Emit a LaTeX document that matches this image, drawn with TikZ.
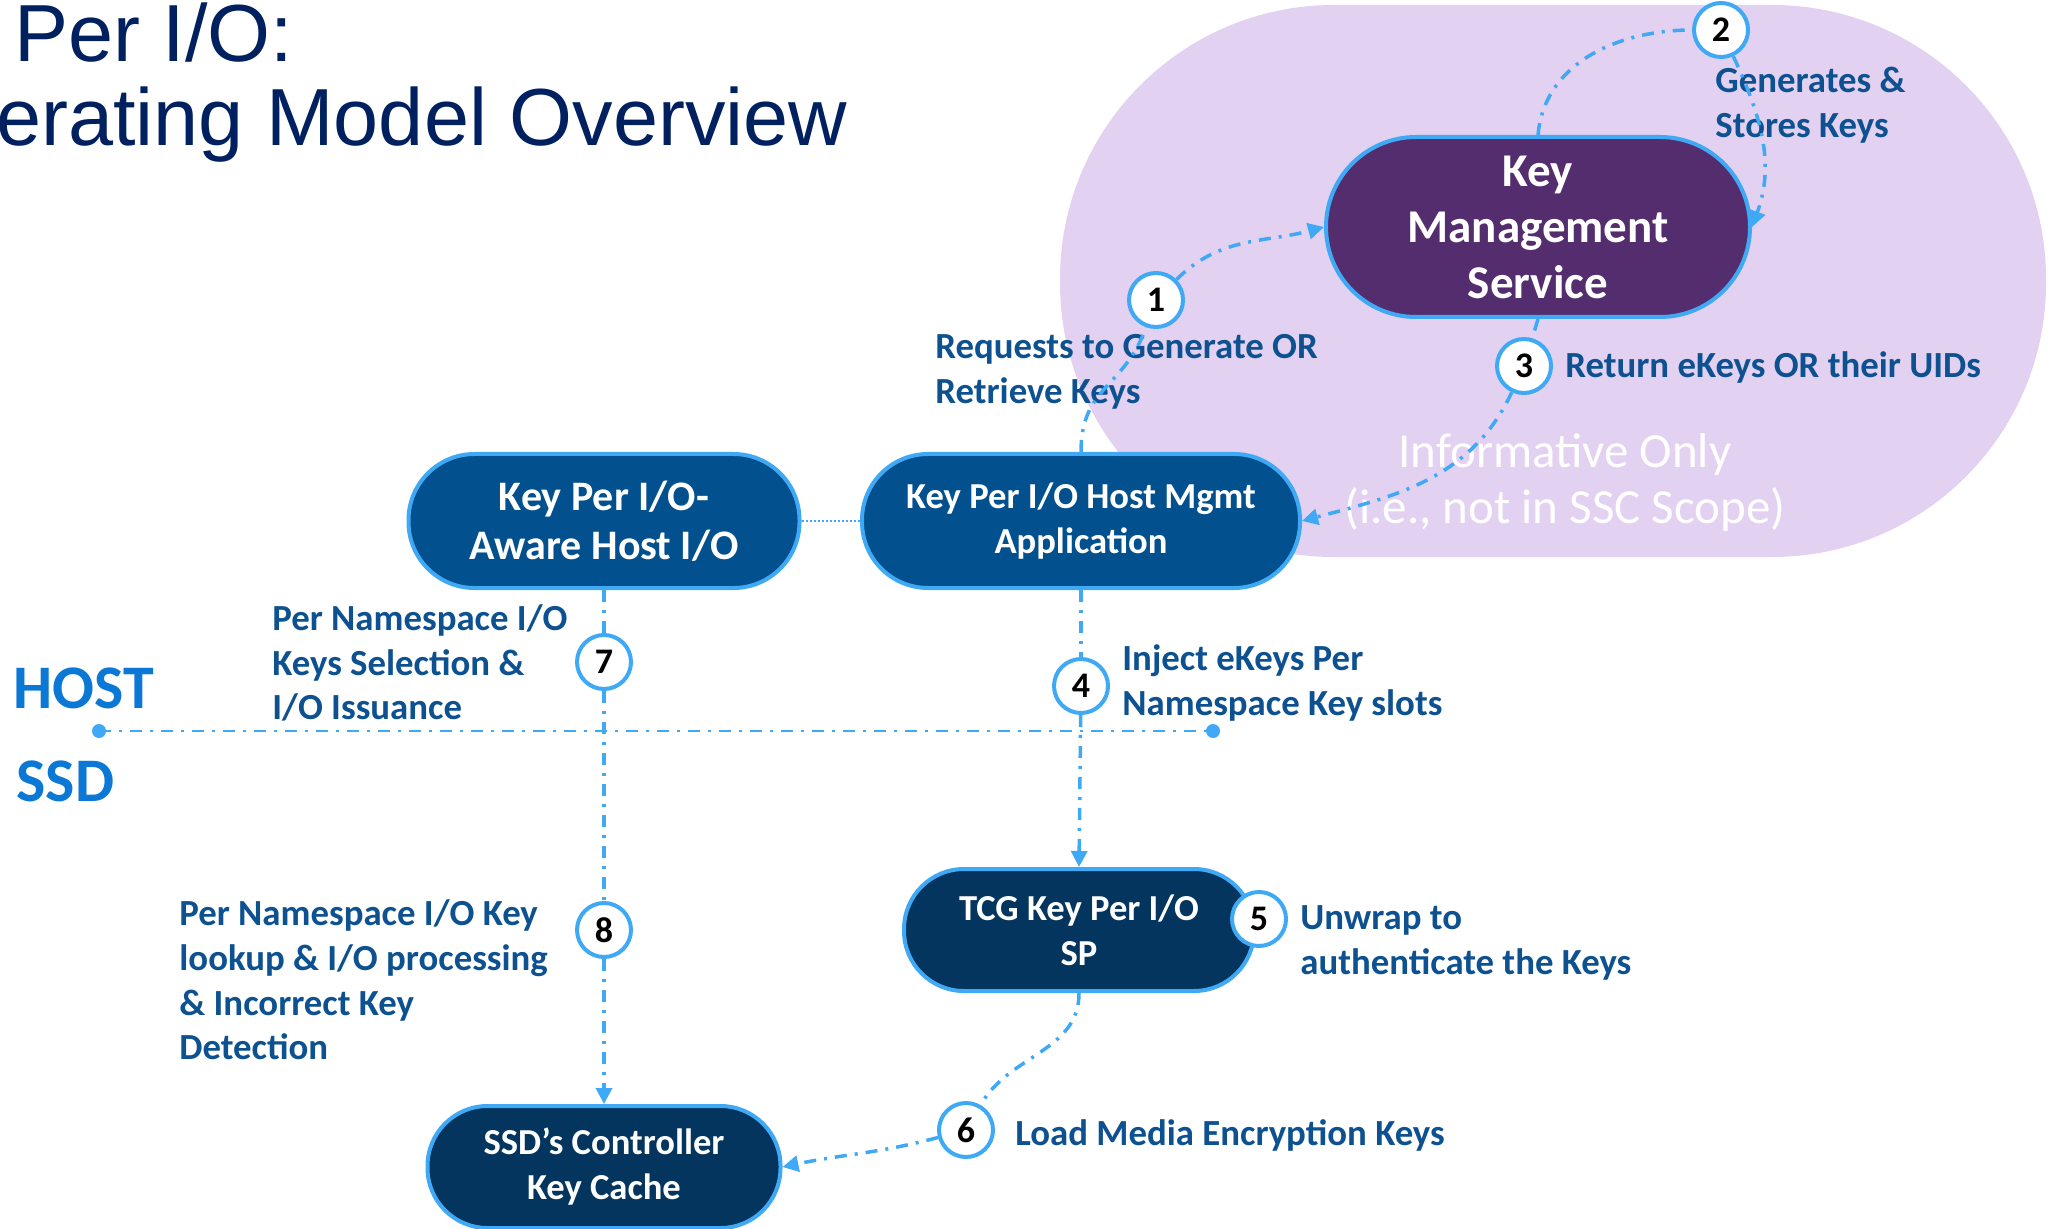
\documentclass[tikz,border=0pt]{standalone}
\usepackage{fontspec}
\setmainfont{Carlito}
\newfontfamily\titlefont{Liberation Sans}
\usetikzlibrary{arrows.meta}

\definecolor{scopepurple}{HTML}{E2D1F0}
\definecolor{linkblue}{HTML}{3FA9F5}
\definecolor{kmsfill}{HTML}{532D6D}
\definecolor{hostfill}{HTML}{02508D}
\definecolor{ssdfill}{HTML}{04355E}
\definecolor{labelblue}{HTML}{0D5190}
\definecolor{sideblue}{HTML}{0A78D4}
\definecolor{titlenavy}{HTML}{002060}

\tikzset{
  box/.style={rectangle, draw=linkblue, line width=2pt, text=white, align=center, inner sep=2pt},
  badge/.style={circle, draw=linkblue, fill=white, line width=2pt, minimum size=27pt, inner sep=0pt,
    font=\fontsize{18}{18}\selectfont\bfseries},
  lbl/.style={text=labelblue, align=left, inner sep=0pt, anchor=west,
    font=\fontsize{18.4}{22.3}\selectfont\bfseries},
  side/.style={text=sideblue, inner sep=0pt, anchor=west, font=\fontsize{31}{31}\selectfont\bfseries},
  ttl/.style={text=titlenavy, inner sep=0pt, anchor=base west, font=\titlefont\fontsize{40.5}{40.5}\selectfont},
  flow/.style={draw=linkblue, line width=1.75pt, dash pattern=on 6pt off 4pt on 1.5pt off 4pt},
  tip/.style={-{Triangle[length=8pt,width=8pt]}},
  sepdot/.style={circle, fill=linkblue, minimum size=7pt, inner sep=0pt},
}

\begin{document}
\begin{tikzpicture}[x=0.5pt,y=-0.5pt]
\useasboundingbox (0,0) rectangle (2048,1229);
\clip (0,0) rectangle (2048,1229);

% informative area
\fill[scopepurple, rounded corners=137pt] (1060,5) rectangle (2046,557);

% title
\node[ttl] (ttlA) at (14,62) {Per I/O:};
\node[ttl] (ttlB) at (-4,146) {erating Model Overview};

\node[side] (host) at (13,688) {HOST};
\node[side] (ssd) at (16,781) {SSD};

% boxes
\node[box, fill=kmsfill, minimum width=212pt, minimum height=90pt, rounded corners=45pt,
  font=\fontsize{23.5}{28}\selectfont\bfseries] (kms) at (1538,227) {Key\\Management\\Service};
\node[box, fill=hostfill, minimum width=219pt, minimum height=67pt, rounded corners=33pt,
  font=\fontsize{18.3}{22.5}\selectfont\bfseries] (hm) at (1081,521) {Key Per I/O Host Mgmt\\Application};
\node[box, fill=hostfill, minimum width=195.5pt, minimum height=67pt, rounded corners=33pt,
  font=\fontsize{21}{24.5}\selectfont\bfseries] (hio) at (604,521) {Key Per I/O-\\Aware Host I/O};
\node[box, fill=ssdfill, minimum width=175pt, minimum height=61pt, rounded corners=30pt,
  font=\fontsize{18.3}{22.5}\selectfont\bfseries] (tcg) at (1079,930) {TCG Key Per I/O\\SP};
\node[box, fill=ssdfill, minimum width=176.5pt, minimum height=61pt, rounded corners=30pt,
  font=\fontsize{18.3}{22.5}\selectfont\bfseries] (cache) at (604,1167) {SSD’s Controller\\Key Cache};

% labels
\node[lbl] (l1) at (935,372) {Requests to Generate OR\\Retrieve Keys};
\node[lbl] (l2) at (1715,105) {Generates \&\\Stores Keys};
\node[lbl] (l3) at (1565,367) {Return eKeys OR their UIDs};
\node[lbl] (l4) at (1122,683) {Inject eKeys Per\\Namespace Key slots};
\node[lbl] (l5) at (1300,943) {Unwrap to\\authenticate the Keys};
\node[lbl] (l6) at (1015,1135) {Load Media Encryption Keys};
\node[lbl] (l7) at (272,663) {Per Namespace I/O\\Keys Selection \&\\I/O Issuance};
\node[lbl] (l8) at (179,980) {Per Namespace I/O Key\\lookup \& I/O processing\\\& Incorrect Key\\Detection};
\node[text=white, align=center, font=\fontsize{24.5}{28}\selectfont] (info) at (1565,482)
  {Informative Only\\(i.e., not in SSC Scope)};

% host / ssd boundary
\node[sepdot] (sepL) at (99,731) {};
\node[sepdot] (sepR) at (1213,731) {};
\draw[linkblue, line width=1.3pt, dash pattern=on 6pt off 4pt on 1.5pt off 4pt] (sepL.center) -- (sepR.center);

% steps
\node[badge] (b1) at (1156,300) {1};
\node[badge] (b2) at (1721,30) {2};
\node[badge] (b3) at (1524,366) {3};
\node[badge] (b4) at (1081,686) {4};
\node[badge] (b5) at (1259,919) {5};
\node[badge] (b6) at (966,1130) {6};
\node[badge] (b7) at (604,662) {7};
\node[badge] (b8) at (604,930) {8};

\draw[flow] (hm.north) to[out=90,in=-110,looseness=1.2] (b1);
\draw[flow,tip] (b1) to[out=45,in=195] (kms.west);
\draw[flow] (kms.north) to[out=85,in=180] (b2);
\draw[flow,tip] (b2) to[out=-65,in=70] (kms.east);
\draw[flow] (kms.south) -- (b3);
\draw[flow,tip] (b3) to[out=-115,in=15] (hm.east);
\draw[flow] (hm.south) -- (b4);
\draw[flow,tip] (b4) -- (tcg.north);
\draw[flow] (tcg.south) to[out=-90,in=60] (b6);
\draw[flow,tip] (b6) to[out=195,in=12] (cache.east);
\draw[flow] (hio.south) -- (b7);
\draw[flow] (b7) -- (b8);
\draw[flow,tip] (b8) -- (cache.north);
\draw[linkblue, line width=1pt, densely dotted] (hio.east) -- (hm.west);
\end{tikzpicture}
\end{document}
